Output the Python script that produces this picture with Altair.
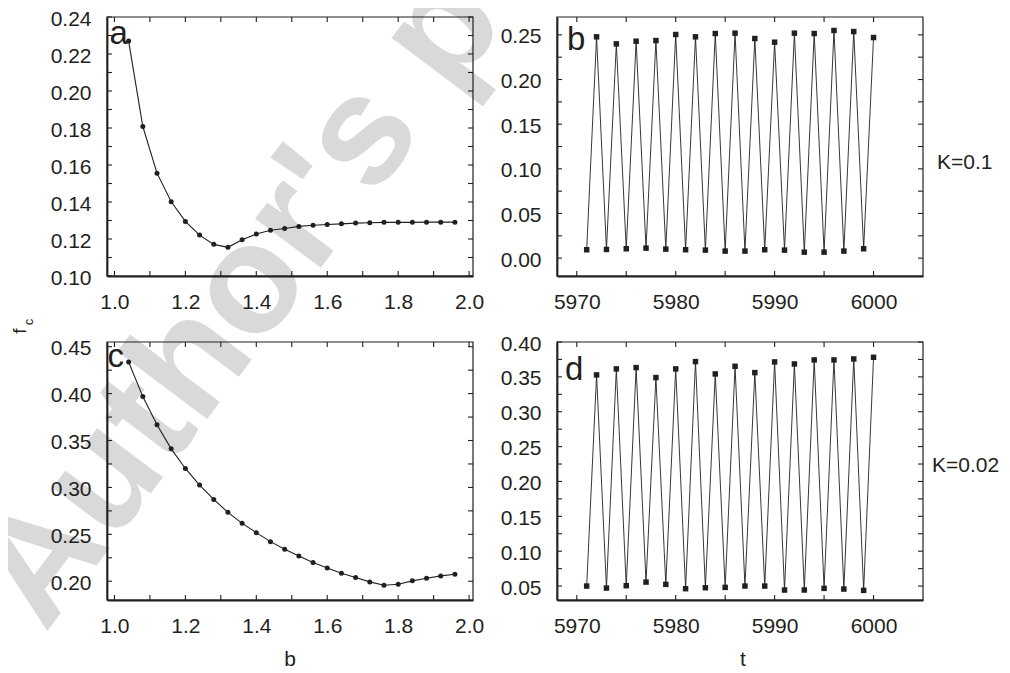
import altair as alt
import pandas as pd

# ---------------- data ----------------
b_vals = [1.04, 1.08, 1.12, 1.16, 1.20, 1.24, 1.28, 1.32, 1.36, 1.40, 1.44, 1.48,
          1.52, 1.56, 1.60, 1.64, 1.68, 1.72, 1.76, 1.80, 1.84, 1.88, 1.92, 1.96]
fc_K01 = [0.2270, 0.1808, 0.1556, 0.1401, 0.1295, 0.1221, 0.1171, 0.1155, 0.1196, 0.1227,
          0.1247, 0.1257, 0.1268, 0.1274, 0.1278, 0.1282, 0.1286, 0.1288, 0.1290, 0.1290,
          0.1290, 0.1291, 0.1291, 0.1291]
fc_K002 = [0.4337, 0.3968, 0.3667, 0.3411, 0.3202, 0.3025, 0.2872, 0.2734, 0.2617, 0.2518,
           0.2422, 0.2340, 0.2270, 0.2199, 0.2142, 0.2085, 0.2039, 0.1993, 0.1957, 0.1968,
           0.2004, 0.2032, 0.2057, 0.2074]
t_vals = [5971, 5972, 5973, 5974, 5975, 5976, 5977, 5978, 5979, 5980,
          5981, 5982, 5983, 5984, 5985, 5986, 5987, 5988, 5989, 5990,
          5991, 5992, 5993, 5994, 5995, 5996, 5997, 5998, 5999, 6000]
ts_K01 = [0.0094, 0.2478, 0.0097, 0.2399, 0.0105, 0.2429, 0.0112, 0.2436, 0.0101, 0.2504,
          0.0094, 0.2478, 0.0090, 0.2515, 0.0079, 0.2519, 0.0079, 0.2459, 0.0094, 0.2418,
          0.0090, 0.2519, 0.0067, 0.2515, 0.0067, 0.2549, 0.0079, 0.2537, 0.0105, 0.2470]
ts_K002 = [0.0500, 0.3528, 0.0471, 0.3614, 0.0505, 0.3633, 0.0557, 0.3490, 0.0524, 0.3614,
           0.0462, 0.3719, 0.0476, 0.3542, 0.0481, 0.3652, 0.0500, 0.3561, 0.0500, 0.3714,
           0.0443, 0.3685, 0.0443, 0.3743, 0.0467, 0.3743, 0.0457, 0.3757, 0.0438, 0.3781]

# axis tick labels / tick positions
xb_labels = [1.0, 1.2, 1.4, 1.6, 1.8, 2.0]
xb_ticks = [1.0, 1.1, 1.2, 1.3, 1.4, 1.5, 1.6, 1.7, 1.8, 1.9, 2.0]
xt_labels = [5970, 5980, 5990, 6000]
xt_ticks = [5970, 5975, 5980, 5985, 5990, 5995, 6000]
ya_labels = [0.10, 0.12, 0.14, 0.16, 0.18, 0.20, 0.22, 0.24]
ya_ticks = [0.10, 0.11, 0.12, 0.13, 0.14, 0.15, 0.16, 0.17, 0.18, 0.19, 0.20, 0.21, 0.22, 0.23, 0.24]
yb_labels = [0.00, 0.05, 0.10, 0.15, 0.20, 0.25]
yb_ticks = [0.0, 0.025, 0.05, 0.075, 0.10, 0.125, 0.15, 0.175, 0.20, 0.225, 0.25]
yc_labels = [0.20, 0.25, 0.30, 0.35, 0.40, 0.45]
yc_ticks = [0.20, 0.225, 0.25, 0.275, 0.30, 0.325, 0.35, 0.375, 0.40, 0.425, 0.45]
yd_labels = [0.05, 0.10, 0.15, 0.20, 0.25, 0.30, 0.35, 0.40]
yd_ticks = [0.05, 0.075, 0.10, 0.125, 0.15, 0.175, 0.20, 0.225, 0.25, 0.275, 0.30, 0.325,
            0.35, 0.375, 0.40]

panel_letters = ["a", "b", "c", "d"]
k_labels = ["K=0.1", "K=0.02"]
x_titles = ["b", "t"]
y_title = ["f", "c"]
watermark = ["Author's personal copy"]

# ---------------- layout (pixels) ----------------
W, H = 816, 583          # whole plotting region
XL = [0, 366]            # left column range
XR = [450, 816]          # right column range
YT = [259, 0]            # top row range
YB = [583, 325]          # bottom row range
TICK = 5

INK = "#231f20"
FONT = "Liberation Sans"


def panel(df, xf, yf, xdom, ydom, xr, yr, xlab, xfmt, xticks, ylab, yfmt, yticks,
          off_x, off_y, square):
    sx = alt.Scale(domain=xdom, range=xr, nice=False, zero=False)
    sy = alt.Scale(domain=ydom, range=yr, nice=False, zero=False)
    out = []
    # frame
    out.append(
        alt.Chart(pd.DataFrame({"k": [0]})).mark_rect(
            filled=False, stroke=INK, strokeWidth=1.2
        ).encode(x=alt.value(xr[0]), x2=alt.value(xr[1]),
                 y=alt.value(yr[1]), y2=alt.value(yr[0]))
    )
    # inward ticks along x (bottom and top)
    xt_df = pd.DataFrame({"v": xticks})
    for y0, y1 in ((yr[0] - TICK, yr[0]), (yr[1], yr[1] + TICK)):
        out.append(
            alt.Chart(xt_df).mark_rule(color=INK, strokeWidth=1.1).encode(
                x=alt.X("v:Q", scale=sx, axis=None),
                y=alt.value(y0), y2=alt.value(y1))
        )
    # inward ticks along y (left and right)
    yt_df = pd.DataFrame({"v": yticks})
    for x0, x1 in ((xr[0], xr[0] + TICK), (xr[1] - TICK, xr[1])):
        out.append(
            alt.Chart(yt_df).mark_rule(color=INK, strokeWidth=1.1).encode(
                y=alt.Y("v:Q", scale=sy, axis=None),
                x=alt.value(x0), x2=alt.value(x1))
        )
    base = alt.Chart(df)
    # connecting line + labelled axes
    out.append(
        base.mark_line(color=INK, strokeWidth=0.9 if square else 1.1).encode(
            x=alt.X(f"{xf}:Q", scale=sx, title=None,
                    axis=alt.Axis(orient="bottom", offset=off_x, values=xlab, format=xfmt,
                                  ticks=False, domain=True, labelPadding=15, zindex=2)),
            y=alt.Y(f"{yf}:Q", scale=sy, title=None,
                    axis=alt.Axis(orient="left", offset=off_y, values=ylab, format=yfmt,
                                  ticks=False, domain=True, labelPadding=16,
                                  labelOffset=2, zindex=2)),
            order=f"{xf}:Q",
        )
    )
    if square:
        pm = base.mark_square(size=30, color=INK, opacity=1)
    else:
        pm = base.mark_circle(size=25, color=INK, opacity=1)
    out.append(pm.encode(
        x=alt.X(f"{xf}:Q", scale=sx, axis=None),
        y=alt.Y(f"{yf}:Q", scale=sy, axis=None),
    ))
    return out


df_a = pd.DataFrame({"b": b_vals, "fc": fc_K01})
df_c = pd.DataFrame({"b": b_vals, "fc": fc_K002})
df_b = pd.DataFrame({"t": t_vals, "fc": ts_K01})
df_d = pd.DataFrame({"t": t_vals, "fc": ts_K002})

layers = []

# watermark (behind everything)
layers.append(
    alt.Chart(pd.DataFrame({"w": watermark})).mark_text(
        font=FONT, fontSize=155, fontWeight="bold", color="#d9d9d9", angle=307,
        align="left", baseline="alphabetic"
    ).encode(x=alt.value(-62), y=alt.value(617), text="w:N")
)

layers += panel(df_a, "b", "fc", [0.979, 2.011], [0.10, 0.24], XL, YT,
                xb_labels, ".1f", xb_ticks, ya_labels, ".2f", ya_ticks,
                YT[0] - H, -XL[0], False)
layers += panel(df_b, "t", "fc", [5968, 6005], [-0.02, 0.27], XR, YT,
                xt_labels, "d", xt_ticks, yb_labels, ".2f", yb_ticks,
                YT[0] - H, -XR[0], True)
layers += panel(df_c, "b", "fc", [0.979, 2.011], [0.18, 0.455], XL, YB,
                xb_labels, ".1f", xb_ticks, yc_labels, ".2f", yc_ticks,
                YB[0] - H, -XL[0], False)
layers += panel(df_d, "t", "fc", [5968, 6005], [0.03, 0.40], XR, YB,
                xt_labels, "d", xt_ticks, yd_labels, ".2f", yd_ticks,
                YB[0] - H, -XR[0], True)


def label(txt, x, y, size, align="left", baseline="alphabetic", angle=0):
    props = dict(font=FONT, fontSize=size, color=INK, align=align, baseline=baseline)
    if angle:
        props["angle"] = angle
    return alt.Chart(pd.DataFrame({"s": [txt]})).mark_text(**props).encode(
        x=alt.value(x), y=alt.value(y), text="s:N")


# panel letters
layers.append(label(panel_letters[0], 2.5, 26.5, 33))
layers.append(label(panel_letters[1], 460, 32.5, 33))
layers.append(label(panel_letters[2], 0.5, 350, 33))
layers.append(label(panel_letters[3], 458, 363, 33))
# K labels on the right
layers.append(label(k_labels[0], 830, 151.5, 21))
layers.append(label(k_labels[1], 825, 455, 21))
# x titles
layers.append(label(x_titles[0], 183, 649, 21, align="center"))
layers.append(label(x_titles[1], 636, 649, 21, align="center"))
# y title f_c (rotated, subscript c)
layers.append(label(y_title[0], -81, 314, 19, align="center", angle=270))
layers.append(label(y_title[1], -74.5, 305, 13, align="center", angle=270))

chart = alt.layer(*layers).resolve_scale(
    x="independent", y="independent"
).resolve_axis(
    x="independent", y="independent"
).properties(
    width=W, height=H,
    autosize=alt.AutoSizeParams(type="none"),
    padding={"left": 99, "top": 9, "right": 79, "bottom": 72},
).configure_view(
    strokeWidth=0
).configure_axis(
    grid=False,
    labelFont=FONT, labelFontSize=21, labelColor=INK,
    labelFlush=False, labelOverlap=False,
    domainColor=INK, domainWidth=1.8,
)

chart.save("out.html", embed_options={"renderer": "svg", "actions": False})
